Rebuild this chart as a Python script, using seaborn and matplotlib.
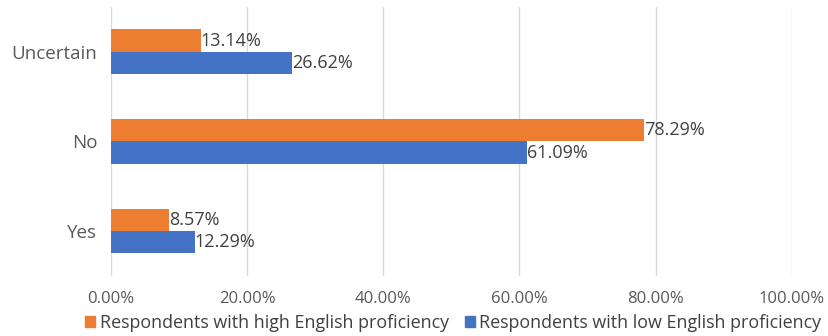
import matplotlib
matplotlib.use("Agg")
import matplotlib.pyplot as plt
import seaborn as sns
import pandas as pd
from matplotlib.ticker import FuncFormatter, MultipleLocator
from matplotlib.patches import Patch

categories = ["Uncertain", "No", "Yes"]
series_names = ["Respondents with high English proficiency",
                "Respondents with low English proficiency"]
high_values = [13.14, 78.29, 8.57]
low_values = [26.62, 61.09, 12.29]
colors = ["#ED7D31", "#4472C4"]

rows = []
for c, h, l in zip(categories, high_values, low_values):
    rows.append({"cat": c, "series": series_names[0], "val": h})
    rows.append({"cat": c, "series": series_names[1], "val": l})
df = pd.DataFrame(rows)

sns.set_theme(style="white")
plt.rcParams["font.family"] = ["Open Sans", "DejaVu Sans"]

fig = plt.figure(figsize=(8.29, 3.36), dpi=100)
ax = fig.add_axes([0.134, 0.179, 0.821, 0.800])

sns.barplot(data=df, y="cat", x="val", hue="series", order=categories,
            hue_order=series_names, palette=colors, orient="h",
            width=0.5, gap=0, saturation=1, linewidth=0, ax=ax, legend=False)

for cont in ax.containers:
    ax.bar_label(cont, labels=[f"{b.get_width():.2f}%" for b in cont],
                 padding=0, fontsize=13, color="#404040")

ax.set_xlim(0, 100)
ax.set_ylim(2.5, -0.5)
ax.xaxis.set_major_locator(MultipleLocator(20))
ax.xaxis.set_major_formatter(FuncFormatter(lambda v, p: f"{v:.2f}%"))
ax.grid(axis="x", color="#D9D9D9", linewidth=1)
ax.set_axisbelow(True)
for s in ax.spines.values():
    s.set_visible(False)
ax.set_xlabel("")
ax.set_ylabel("")
ax.tick_params(axis="both", length=0, colors="#595959")
ax.tick_params(axis="x", pad=11, labelsize=12)
ax.tick_params(axis="y", pad=10, labelsize=13.5)

handles = [Patch(color=colors[0]), Patch(color=colors[1])]
fig.legend(handles, series_names, loc="center", bbox_to_anchor=(0.547, 0.038),
           ncol=2, frameon=False, fontsize=12.9, handlelength=0.55,
           handleheight=0.55, handletextpad=0.25, columnspacing=0.9,
           labelcolor="#404040", borderpad=0)

fig.savefig("out.png", dpi=100)
